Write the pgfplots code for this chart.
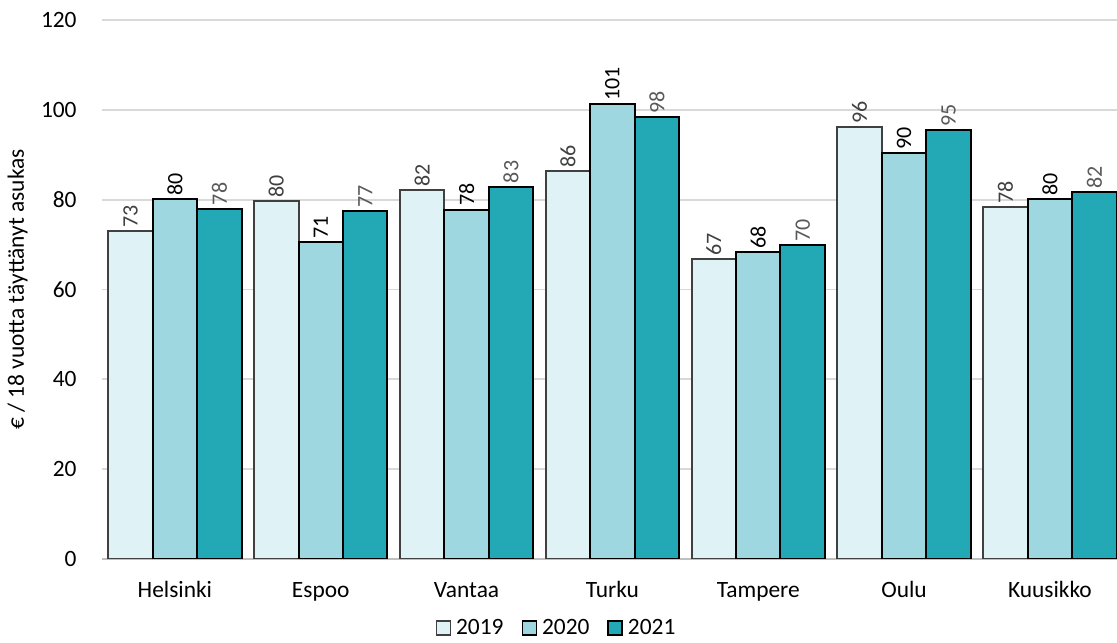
\documentclass[border=0pt]{standalone}
\usepackage{pgfplots}
\pgfplotsset{compat=1.18}
\usepackage{fontspec}
\setmainfont{Carlito}

\definecolor{c2019}{HTML}{DFF3F6}
\definecolor{c2020}{HTML}{9FD7E1}
\definecolor{c2021}{HTML}{23A9B5}
\definecolor{gridgray}{HTML}{D9D9D9}
\definecolor{axisgray}{HTML}{BFBFBF}
\definecolor{lab2019}{HTML}{404040}
\definecolor{lab2021}{HTML}{595959}

\newcommand{\tickfont}{\fontsize{11.7}{13}\selectfont}
\newcommand{\valfont}{\fontsize{11}{12}\selectfont}

% values: 0=Helsinki ... 6=Kuusikko
\pgfplotstableread{
x  y
0  73.0
1  79.6
2  82.2
3  86.4
4  66.7
5  96.2
6  78.3
}\dataA
\pgfplotstableread{
x  y
0  80.1
1  70.6
2  77.8
3  101.3
4  68.3
5  90.4
6  80.2
}\dataB
\pgfplotstableread{
x  y
0  78.0
1  77.4
2  82.9
3  98.4
4  69.8
5  95.4
6  81.6
}\dataC

\begin{document}
\begin{tikzpicture}
\begin{axis}[
    scale only axis,
    width=507.5pt, height=269.5pt,
    ybar=0pt,
    bar width=0.305,
    xmin=-0.5, xmax=6.46,
    ymin=0, ymax=120,
    ytick={0,20,...,120},
    xtick=data,
    xticklabels={Helsinki,Espoo,Vantaa,Turku,Tampere,Oulu,Kuusikko},
    major tick length=0pt,
    separate axis lines,
    axis x line*=bottom,
    axis y line*=left,
    y axis line style={draw=none},
    x axis line style={draw=axisgray, line width=1pt},
    ymajorgrids,
    grid style={draw=gridgray, line width=0.9pt},
    tick label style={font=\tickfont, text=black},
    /pgf/number format/assume math mode=true,
    yticklabel style={anchor=east, inner sep=0pt, xshift=-12.5pt},
    xticklabel style={anchor=base, inner sep=0pt, yshift=-19.5pt},
    ylabel={€ / 18 vuotta täyttänyt asukas},
    every axis y label/.style={at={(axis description cs:-0.0769,0.5)},
        rotate=90, anchor=base, inner sep=0pt, font=\tickfont},
    nodes near coords={\pgfmathprintnumber[fixed,precision=0]{\pgfplotspointmeta}},
    nodes near coords style={inner sep=1.3pt, font=\valfont},
    legend style={at={(0.5,0)}, anchor=center, xshift=-26pt, yshift=-34.5pt,
        draw=none, fill=none, font=\tickfont, legend columns=3,
        /tikz/every even column/.append style={column sep=7pt},
        /tikz/every odd column/.append style={column sep=0.5pt}},
    legend image code/.code={\draw[#1, line width=0.75pt] (0pt,-3.5pt) rectangle (7pt,3.5pt);},
    legend cell align=left,
]
\addplot[fill=c2019, draw=lab2019, line width=1pt,
    nodes near coords style={rotate=90, anchor=west, text=lab2019}] table[x=x,y=y] {\dataA};
\addplot[fill=c2020, draw=black, line width=1pt,
    nodes near coords style={rotate=90, anchor=west, text=black}] table[x=x,y=y] {\dataB};
\addplot[fill=c2021, draw=black, line width=1pt,
    nodes near coords style={rotate=90, anchor=west, text=lab2021}] table[x=x,y=y] {\dataC};
\legend{2019,2020,2021}
\end{axis}
\pgfresetboundingbox
\path ([xshift=-51pt,yshift=-42pt]current axis.south west)
    rectangle ([yshift=10pt]current axis.north east);
\end{tikzpicture}
\end{document}
